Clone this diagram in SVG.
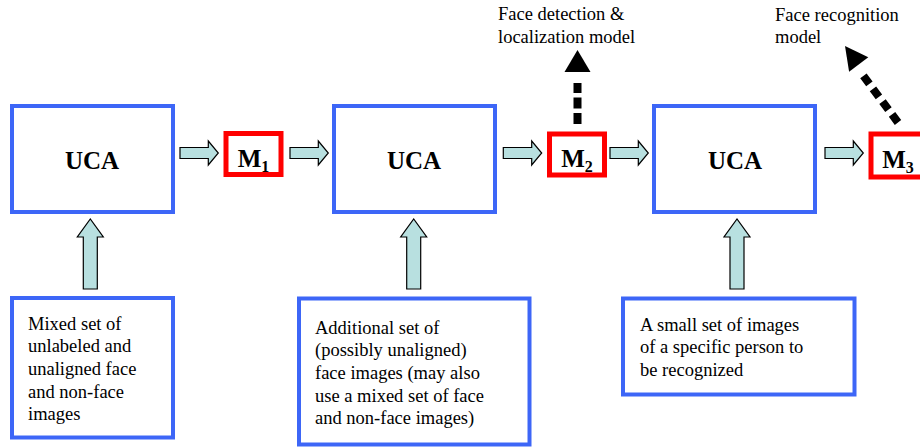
<svg xmlns="http://www.w3.org/2000/svg" width="920" height="447" viewBox="0 0 920 447">
<style>
.blue{fill:#fff;stroke:#3d66f7;stroke-width:4}
.red{fill:#fff;stroke:#ff0000;stroke-width:5}
.blk{fill:#b8e0e0;stroke:#000;stroke-width:1.2;stroke-linejoin:miter}
.uca{font-family:"Liberation Serif","Times New Roman",serif;font-weight:bold;font-size:25px;fill:#000}
.m{font-family:"Liberation Serif","Times New Roman",serif;font-weight:bold;font-size:25px;fill:#000}
.sub{font-size:16px}
.t{font-family:"Liberation Serif","Times New Roman",serif;font-size:18.5px;fill:#000}
.dot{stroke:#000;stroke-width:8;fill:none}
</style>
<rect width="920" height="447" fill="#fff"/>
<g id="uca1"><rect class="blue" x="12" y="106" width="161" height="106"/><text class="uca" x="92" y="169" text-anchor="middle">UCA</text></g>
<g id="uca2"><rect class="blue" x="334" y="106" width="161" height="106"/><text class="uca" x="414" y="169" text-anchor="middle">UCA</text></g>
<g id="uca3"><rect class="blue" x="654" y="106" width="161" height="106"/><text class="uca" x="735" y="169" text-anchor="middle">UCA</text></g>
<g id="m1"><rect class="red" x="226" y="133.5" width="55" height="41"/><text class="m" x="253.5" y="167" text-anchor="middle">M<tspan class="sub" dy="5">1</tspan></text></g>
<g id="m2"><rect class="red" x="549.5" y="134" width="55" height="41"/><text class="m" x="577" y="167" text-anchor="middle">M<tspan class="sub" dy="5">2</tspan></text></g>
<g id="m3"><rect class="red" x="871" y="134" width="56" height="43"/><text class="m" x="898" y="168" text-anchor="middle">M<tspan class="sub" dy="5">3</tspan></text></g>
<g id="in1"><rect class="blue" x="12" y="298" width="161" height="139.5"/>
<text class="t" x="28"><tspan x="28" y="329.5">Mixed set of</tspan><tspan x="28" y="352.2">unlabeled and</tspan><tspan x="28" y="374.9">unaligned face</tspan><tspan x="28" y="397.6">and non-face</tspan><tspan x="28" y="420.3">images</tspan></text></g>
<g id="in2"><rect class="blue" x="299" y="298.5" width="230.5" height="146"/>
<text class="t"><tspan x="315" y="333.5">Additional set of</tspan><tspan x="315" y="356.2">(possibly unaligned)</tspan><tspan x="315" y="378.9">face images (may also</tspan><tspan x="315" y="401.6">use a mixed set of face</tspan><tspan x="315" y="424.3">and non-face images)</tspan></text></g>
<g id="in3"><rect class="blue" x="623" y="298.5" width="231.5" height="96"/>
<text class="t"><tspan x="640" y="330.5">A small set of images</tspan><tspan x="640" y="353">of a specific person to</tspan><tspan x="640" y="375.5">be recognized</tspan></text></g>
<g id="out2"><text class="t"><tspan x="498" y="20">Face detection &amp;</tspan><tspan x="498" y="42.5">localization model</tspan></text></g>
<g id="out3"><text class="t"><tspan x="775" y="20.5">Face recognition</tspan><tspan x="775" y="43">model</tspan></text></g>
<g id="connectors">
<path class="blk" d="M180,147.5 H208.3 V141 L218.3,153 L208.3,165 V158.5 H180 Z"/>
<path class="blk" d="M290,147.5 H318.3 V141 L328.3,153 L318.3,165 V158.5 H290 Z"/>
<path class="blk" d="M503.3,147.5 H531.7 V141 L541.7,153 L531.7,165 V158.5 H503.3 Z"/>
<path class="blk" d="M610,147.5 H638.3 V141 L648.3,153 L638.3,165 V158.5 H610 Z"/>
<path class="blk" d="M825,147.5 H853.3 V141 L863.3,153 L853.3,165 V158.5 H825 Z"/>
<path class="blk" d="M83.3,289 V237 H77.3 L90.3,219 L103.3,237 H97.3 V289 Z"/>
<path class="blk" d="M406.7,289 V237 H400.7 L413.7,219 L426.7,237 H420.7 V289 Z"/>
<path class="blk" d="M730,289 V237 H724 L737,219 L750,237 H744 V289 Z"/>
<line class="dot" x1="577.5" y1="124" x2="577.5" y2="83" stroke-dasharray="11 4.5"/>
<polygon points="577.5,50 590.5,72 564.5,72" fill="#000"/>
<line class="dot" x1="898" y1="122.5" x2="863.4" y2="75.9" stroke-dasharray="10 6"/>
<polygon points="845,46 868.3,57.3 849.1,71.7" fill="#000"/>
</g>
</svg>
